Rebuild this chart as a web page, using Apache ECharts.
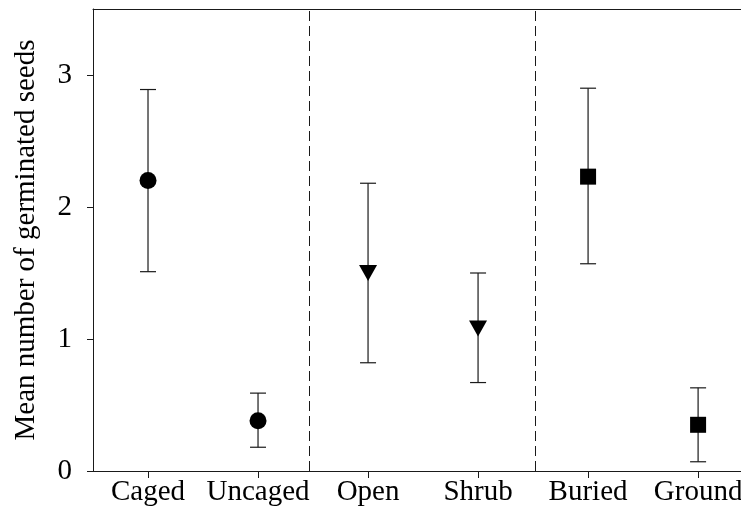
<!DOCTYPE html>
<html>
<head>
<meta charset="utf-8">
<script src="https://cdn.jsdelivr.net/npm/echarts@6/dist/echarts.min.js"></script>
<style>
  html, body { margin: 0; padding: 0; background: #fff; }
  #chart { width: 741px; height: 514px; }
</style>
</head>
<body>
<div id="chart"></div>
<script>
// treatment groups, left to right
const categories = ["Caged", "Uncaged", "Open", "Shrub", "Buried", "Ground"];
const means = [2.20, 0.38, 1.50, 1.08, 2.23, 0.35];
const lowers = [1.51, 0.18, 0.82, 0.67, 1.57, 0.07];
const uppers = [2.89, 0.59, 2.18, 1.50, 2.90, 0.63];
const symbols = ["circle", "circle", "triangle", "triangle", "rect", "rect"];
const yTicks = [0, 1, 2, 3];
const dividers = [2.47, 4.52];

const fontFamily = '"Liberation Serif", "Times New Roman", serif';
const ink = "#1a1a1a";
const catPos = categories.map(function (c, i) { return i + 1; });

let chart = echarts.init(document.getElementById("chart"));

// points, one per category
let pointData = categories.map(function (c, i) {
    let sym = symbols[i];
    return {
        value: [i + 1, means[i]],
        symbol: sym,
        symbolRotate: sym === "triangle" ? 180 : 0,
        symbolSize: sym === "circle" ? 17 : (sym === "triangle" ? [18, 16] : 16)
    };
});

let errData = categories.map(function (c, i) {
    return [i + 1, lowers[i], uppers[i]];
});

chart.setOption({
    animation: false,
    backgroundColor: "#fff",
    grid: { left: 93, top: 9, right: 0, bottom: 43, outerBoundsMode: "none", containLabel: false },
    xAxis: [
        {
            type: "value",
            min: 0.5, max: 6.39,
            splitLine: { show: false },
            axisLine: { show: true, onZero: false, lineStyle: { color: ink, width: 1 } },
            axisTick: { show: true, length: 7, customValues: catPos, lineStyle: { color: ink } },
            axisLabel: {
                customValues: catPos,
                formatter: function (v) { return categories[Math.round(v) - 1] || ""; },
                color: "#000", fontFamily: fontFamily, fontSize: 29, margin: 7
            }
        },
        {
            // top frame line only
            type: "value",
            position: "top",
            min: 0.5, max: 6.39,
            splitLine: { show: false },
            axisLine: { show: true, onZero: false, lineStyle: { color: ink, width: 1 } },
            axisTick: { show: false },
            axisLabel: { show: false }
        }
    ],
    yAxis: {
        type: "value",
        min: 0, max: 3.5,
        name: "Mean number of germinated seeds",
        nameLocation: "middle",
        nameGap: 52,
        nameTextStyle: { color: "#000", fontFamily: fontFamily, fontSize: 29 },
        splitLine: { show: false },
        axisLine: { show: true, lineStyle: { color: ink, width: 1 } },
        axisTick: { show: true, length: 6, customValues: yTicks, lineStyle: { color: ink } },
        axisLabel: {
            customValues: yTicks,
            color: "#000", fontFamily: fontFamily, fontSize: 29, margin: 21
        }
    },
    series: [
        {
            // dashed group separators
            type: "line",
            data: [],
            markLine: {
                silent: true,
                symbol: "none",
                label: { show: false },
                lineStyle: { color: ink, width: 1, type: [10, 5] },
                data: dividers.map(function (d) { return { xAxis: d }; })
            }
        },
        {
            type: "custom",
            data: errData,
            z: 2,
            renderItem: function (params, api) {
                let x = api.value(0);
                let lo = api.coord([x, api.value(1)]);
                let hi = api.coord([x, api.value(2)]);
                let w = 8;
                let st = { stroke: ink, lineWidth: 1.2 };
                return {
                    type: "group",
                    children: [
                        { type: "line", shape: { x1: lo[0], y1: lo[1], x2: hi[0], y2: hi[1] }, style: st },
                        { type: "line", shape: { x1: lo[0] - w, y1: lo[1], x2: lo[0] + w, y2: lo[1] }, style: st },
                        { type: "line", shape: { x1: hi[0] - w, y1: hi[1], x2: hi[0] + w, y2: hi[1] }, style: st }
                    ]
                };
            }
        },
        {
            type: "scatter",
            data: pointData,
            z: 5,
            itemStyle: { color: "#000", opacity: 1 }
        }
    ]
});
</script>
</body>
</html>
